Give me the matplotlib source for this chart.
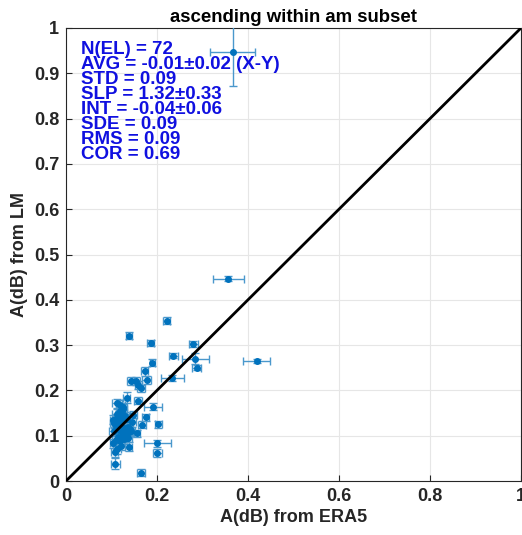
import matplotlib.pyplot as plt
import numpy as np

# values
era5 = [0.366, 0.357, 0.221, 0.139, 0.186, 0.280, 0.236, 0.284, 0.419, 0.190,
        0.287, 0.173, 0.234, 0.142, 0.154, 0.177, 0.159, 0.165, 0.133, 0.158,
        0.192, 0.119, 0.126, 0.111, 0.148, 0.175, 0.104, 0.119, 0.203, 0.167,
        0.137, 0.111, 0.155, 0.126, 0.115, 0.201, 0.104, 0.121, 0.138, 0.107,
        0.201, 0.108, 0.165,
        0.112, 0.118, 0.124, 0.130, 0.106, 0.113, 0.121, 0.128, 0.135, 0.142,
        0.109, 0.116, 0.123, 0.131, 0.139, 0.110, 0.117, 0.125, 0.133, 0.146,
        0.105, 0.114, 0.122, 0.129, 0.136, 0.112, 0.119, 0.127, 0.140]
lm = [0.948, 0.447, 0.354, 0.321, 0.305, 0.302, 0.277, 0.270, 0.265, 0.261,
      0.250, 0.242, 0.227, 0.221, 0.221, 0.223, 0.212, 0.205, 0.184, 0.177,
      0.164, 0.168, 0.160, 0.149, 0.146, 0.141, 0.135, 0.129, 0.125, 0.124,
      0.120, 0.116, 0.105, 0.105, 0.098, 0.083, 0.083, 0.078, 0.076, 0.065,
      0.062, 0.038, 0.018,
      0.172, 0.155, 0.150, 0.143, 0.128, 0.138, 0.132, 0.118, 0.112, 0.110,
      0.122, 0.113, 0.100, 0.095, 0.108, 0.090, 0.145, 0.163, 0.137, 0.130,
      0.110, 0.125, 0.140, 0.102, 0.095, 0.070, 0.088, 0.092, 0.115]
era5_err = [0.05, 0.035, 0.008, 0.007, 0.008, 0.010, 0.010, 0.030, 0.030, 0.006,
            0.010, 0.008, 0.025, 0.008, 0.008, 0.010, 0.008, 0.008, 0.008, 0.008,
            0.020, 0.010, 0.008, 0.010, 0.008, 0.008, 0.008, 0.008, 0.007, 0.008,
            0.008, 0.010, 0.008, 0.008, 0.008, 0.030, 0.008, 0.008, 0.008, 0.008,
            0.010, 0.010, 0.008,
            0.010, 0.008, 0.010, 0.008, 0.010, 0.008, 0.010, 0.008, 0.008, 0.010,
            0.008, 0.010, 0.008, 0.008, 0.010, 0.008, 0.008, 0.010, 0.008, 0.008,
            0.010, 0.008, 0.010, 0.008, 0.008, 0.008, 0.010, 0.008, 0.008]
lm_err = [0.076, 0.006, 0.008, 0.008, 0.006, 0.006, 0.006, 0.012, 0.005, 0.008,
          0.006, 0.010, 0.006, 0.008, 0.008, 0.008, 0.008, 0.008, 0.012, 0.008,
          0.008, 0.010, 0.010, 0.010, 0.008, 0.008, 0.010, 0.010, 0.008, 0.008,
          0.010, 0.010, 0.008, 0.010, 0.010, 0.008, 0.010, 0.010, 0.010, 0.012,
          0.008, 0.012, 0.008,
          0.010, 0.010, 0.010, 0.010, 0.010, 0.010, 0.010, 0.010, 0.010, 0.010,
          0.010, 0.010, 0.010, 0.010, 0.010, 0.010, 0.010, 0.010, 0.010, 0.010,
          0.010, 0.010, 0.010, 0.010, 0.010, 0.010, 0.010, 0.010, 0.010]

stats = ['N(EL) = 72',
         'AVG = -0.01\u00b10.02 (X-Y)',
         'STD = 0.09',
         'SLP = 1.32\u00b10.33',
         'INT = -0.04\u00b10.06',
         'SDE = 0.09',
         'RMS = 0.09',
         'COR = 0.69']

plt.rcParams['font.family'] = ['Liberation Sans', 'DejaVu Sans']

fig = plt.figure(figsize=(5.22, 5.35), dpi=100)
ax = fig.add_axes([66/522, 1 - 481/535, 455/522, 453/535])

ax.errorbar(era5, lm, xerr=era5_err, yerr=lm_err, fmt='o', ms=4,
            color='#0072BD', ecolor='#4a98cc', elinewidth=1, capsize=3,
            capthick=1, zorder=3)
ax.plot([0, 1], [0, 1], c='black', lw=2, zorder=4)

ax.set_xlim(0, 1)
ax.set_ylim(0, 1)
ax.set_xticks(np.arange(0, 1.01, 0.2))
ax.set_yticks(np.arange(0, 1.01, 0.1))
ax.set_xticklabels(['0', '0.2', '0.4', '0.6', '0.8', '1'])
ax.set_yticklabels(['0', '0.1', '0.2', '0.3', '0.4', '0.5', '0.6', '0.7', '0.8', '0.9', '1'])
ax.tick_params(direction='in', labelsize=13, length=4, width=0.8, colors='#262626', pad=5)
for lab in ax.get_xticklabels() + ax.get_yticklabels():
    lab.set_fontweight('bold')
ax.grid(c='#e6e6e6', lw=0.8)
ax.set_axisbelow(True)
for s in ax.spines.values():
    s.set_color('#262626')
    s.set_linewidth(0.8)

ax.set_xlabel('A(dB) from ERA5', fontsize=13, fontweight='bold', color='#262626', labelpad=3)
ax.set_ylabel('A(dB) from LM', fontsize=13, fontweight='bold', color='#262626', labelpad=4)
ax.set_title('ascending within am subset', fontsize=13.4, fontweight='bold', pad=4)

for i, t in enumerate(stats):
    ax.text(0.032, 0.972 - i * 0.0331, t, transform=ax.transAxes, color='#1010e0',
            fontsize=13.5, fontweight='bold', va='top', ha='left', zorder=5,
            linespacing=0.8)

fig.savefig('out.png', dpi=100)
